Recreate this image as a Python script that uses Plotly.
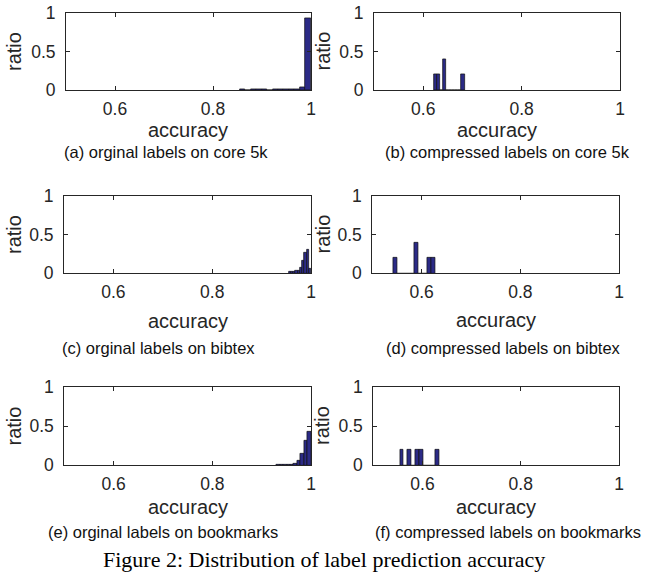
import plotly.graph_objects as go

W, H = 649, 573

# ---------------- data (histograms of accuracy; ratio per bin) ----------------
a_bin_start, a_bin_width = 0.855, 0.0111
a_ratio = [0.003, 0.002, 0.003, 0.003, 0.003, 0.002, 0.003, 0.003, 0.003, 0.004, 0.006, 0.035, 0.93]

b_bin_start, b_bin_width = 0.622, 0.0062
b_ratio = [0.2, 0.2, 0.0, 0.4, 0.0, 0.0, 0.0, 0.0, 0.0, 0.2]

c_bin_start, c_bin_width = 0.955, 0.0045
c_ratio = [0.015, 0.02, 0.025, 0.03, 0.04, 0.07, 0.16, 0.27, 0.31, 0.06]

d_bin_start, d_bin_width = 0.5425, 0.0085
d_ratio = [0.2, 0.0, 0.0, 0.0, 0.0, 0.4, 0.0, 0.0, 0.2, 0.2]

e_bin_start, e_bin_width = 0.93, 0.007
e_ratio = [0.003, 0.004, 0.005, 0.008, 0.012, 0.025, 0.06, 0.15, 0.31, 0.423]

f_bin_start, f_bin_width = 0.554, 0.008
f_ratio = [0.2, 0.0, 0.2, 0.0, 0.2, 0.2, 0.0, 0.0, 0.0, 0.2]

x_tickvals = [0.6, 0.8, 1.0]
x_ticktext = ["0.6", "0.8", "1"]
y_tickvals = [0, 0.5, 1]
y_ticktext = ["0", "0.5", "1"]

subcaptions = [
    "(a) orginal labels on core 5k",
    "(b) compressed labels on core 5k",
    "(c) orginal labels on bibtex",
    "(d) compressed labels on bibtex",
    "(e) orginal labels on bookmarks",
    "(f) compressed labels on bookmarks",
]
figure_caption = "Figure 2: Distribution of label prediction accuracy"
x_label = "accuracy"
y_label = "ratio"

# ---------------- layout geometry (pixels) ----------------
boxes = [
    (66, 311, 13.3, 90),
    (374, 620, 13.3, 90),
    (64, 311, 195.7, 273.3),
    (372.3, 619, 195.7, 273.3),
    (64.3, 311, 386.7, 465.3),
    (373.3, 619, 386.7, 465.3),
]
acc_pos = [(188, 130), (497, 130), (187.5, 321), (496, 320), (187.5, 507), (496, 507)]
ratio_pos = [(13.5, 51.5), (322, 51.5), (13.5, 234.5), (322, 234.5), (13.5, 426), (322, 426)]
cap_pos = [(166, 151.5), (507, 151.5), (158, 348), (503, 348), (163, 532), (508, 532)]

def px(x):
    return x / W

def py(y):
    return 1 - y / H

BAR_FILL = "#2b2a86"
BAR_EDGE = "#101010"
AX_COL = "#262626"
SANS = "Liberation Sans, Arial, Helvetica, sans-serif"

fig = go.Figure()

hists = [
    (a_bin_start, a_bin_width, a_ratio),
    (b_bin_start, b_bin_width, b_ratio),
    (c_bin_start, c_bin_width, c_ratio),
    (d_bin_start, d_bin_width, d_ratio),
    (e_bin_start, e_bin_width, e_ratio),
    (f_bin_start, f_bin_width, f_ratio),
]

layout_axes = {}
for i, ((start, width, ratio), (x0, x1, y0, y1)) in enumerate(zip(hists, boxes)):
    n = i + 1
    suffix = "" if n == 1 else str(n)
    centers = [start + (k + 0.5) * width for k in range(len(ratio))]
    fig.add_trace(go.Bar(
        x=centers, y=ratio, width=[width] * len(ratio),
        marker=dict(color=BAR_FILL, line=dict(color=BAR_EDGE, width=0.7)),
        xaxis="x" + suffix, yaxis="y" + suffix, showlegend=False,
        hoverinfo="skip",
    ))
    layout_axes["xaxis" + suffix] = dict(
        domain=[px(x0), px(x1)], range=[0.5, 1.0], anchor="y" + suffix,
        tickmode="array", tickvals=x_tickvals, ticktext=x_ticktext,
        ticks="inside", ticklen=4, tickwidth=1, tickcolor=AX_COL,
        showline=True, linecolor=AX_COL, linewidth=1, mirror="ticks",
        showgrid=False, zeroline=False, fixedrange=True, automargin=False,
        tickfont=dict(family=SANS, size=17.5, color=AX_COL),
        ticklabelstandoff=3,
    )
    layout_axes["yaxis" + suffix] = dict(
        domain=[py(y1), py(y0)], range=[0, 1.0], anchor="x" + suffix,
        tickmode="array", tickvals=y_tickvals, ticktext=y_ticktext,
        ticks="inside", ticklen=4, tickwidth=1, tickcolor=AX_COL,
        showline=True, linecolor=AX_COL, linewidth=1, mirror="ticks",
        showgrid=False, zeroline=False, fixedrange=True, automargin=False,
        tickfont=dict(family=SANS, size=17.5, color=AX_COL),
        ticklabelstandoff=6,
    )

annotations = []
for (ax, ay) in acc_pos:
    annotations.append(dict(text=x_label, x=px(ax), y=py(ay), xref="paper", yref="paper",
                            xanchor="center", yanchor="middle", showarrow=False,
                            font=dict(family=SANS, size=20, color=AX_COL)))
for (rx, ry) in ratio_pos:
    annotations.append(dict(text=y_label, x=px(rx), y=py(ry), xref="paper", yref="paper",
                            xanchor="center", yanchor="middle", showarrow=False, textangle=-90,
                            font=dict(family=SANS, size=20, color=AX_COL)))
for txt, (cx, cy) in zip(subcaptions, cap_pos):
    annotations.append(dict(text=txt, x=px(cx), y=py(cy), xref="paper", yref="paper",
                            xanchor="center", yanchor="middle", showarrow=False,
                            font=dict(family=SANS, size=16.5, color="#111111")))
annotations.append(dict(text=figure_caption, x=px(324), y=py(559), xref="paper", yref="paper",
                        xanchor="center", yanchor="middle", showarrow=False,
                        font=dict(family="Liberation Serif, Times New Roman, serif", size=22, color="#000000")))

fig.update_layout(
    template="none",
    width=W, height=H,
    margin=dict(l=0, r=0, t=0, b=0, pad=0, autoexpand=False),
    paper_bgcolor="white", plot_bgcolor="white",
    bargap=0, annotations=annotations, showlegend=False,
    **layout_axes,
)

fig.write_html(
    "out.html",
    config={"displayModeBar": False},
    post_script="document.body.style.margin='0px';document.body.style.padding='0px';document.body.style.overflow='hidden';",
)
